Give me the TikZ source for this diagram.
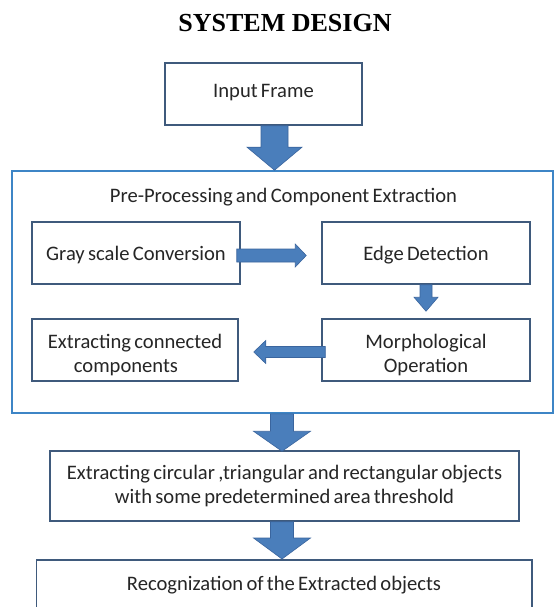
\documentclass[tikz,border=0pt]{standalone}
\usepackage{fontspec}
\setmainfont{Carlito}[WordSpace=0.7]
\newfontfamily\titlefont{Liberation Serif}
\usetikzlibrary{calc}
\definecolor{boxline}{HTML}{3F5A7C}
\definecolor{frameline}{HTML}{3D85C6}
\definecolor{arrowfill}{HTML}{4A7EBB}
\definecolor{arrowline}{HTML}{3A659E}
\tikzset{
  box/.style={draw=boxline, line width=1.5pt, fill=white, align=center, inner sep=0pt,
    font=\fontsize{20.6}{23.5}\selectfont, text=black!85},
  frame/.style={draw=frameline, line width=1.6pt, inner sep=0pt},
  blockarrow/.style={fill=arrowfill, draw=arrowline, line width=0.6pt, line join=miter},
  plaintext/.style={inner sep=0pt, font=\fontsize{20.6}{23.5}\selectfont, text=black!85}
}
\newcommand\lowstrut{\rule{0pt}{24pt}}
% vertical down arrow: start, tip, shaft half, head half, head length
\newcommand\downblock[5]{%
  \path[blockarrow] let \p1=#1, \p2=#2 in
    (\x1-#3pt,\y1) -- (\x1-#3pt,\y2+#5pt) -- (\x1-#4pt,\y2+#5pt) -- (\x1,\y2)
    -- (\x1+#4pt,\y2+#5pt) -- (\x1+#3pt,\y2+#5pt) -- (\x1+#3pt,\y1) -- cycle;}
% horizontal right arrow
\newcommand\rightblock[5]{%
  \path[blockarrow] let \p1=#1, \p2=#2 in
    (\x1,\y1-#3pt) -- (\x2-#5pt,\y1-#3pt) -- (\x2-#5pt,\y1-#4pt) -- (\x2,\y1)
    -- (\x2-#5pt,\y1+#4pt) -- (\x2-#5pt,\y1+#3pt) -- (\x1,\y1+#3pt) -- cycle;}
% horizontal left arrow
\newcommand\leftblock[5]{%
  \path[blockarrow] let \p1=#1, \p2=#2 in
    (\x1,\y1-#3pt) -- (\x2+#5pt,\y1-#3pt) -- (\x2+#5pt,\y1-#4pt) -- (\x2,\y1)
    -- (\x2+#5pt,\y1+#4pt) -- (\x2+#5pt,\y1+#3pt) -- (\x1,\y1+#3pt) -- cycle;}
\begin{document}
\begin{tikzpicture}[x=1pt,y=-1pt]
\useasboundingbox (0,0) rectangle (555,607);
\clip (0,0) rectangle (555,607);
\fill[white] (0,0) rectangle (555,607);

\node[anchor=base, inner sep=0pt, font=\titlefont\bfseries\fontsize{26}{30}\selectfont] (title) at (285,32) {SYSTEM DESIGN};

\node[box, minimum width=197, minimum height=62, text depth=7pt] (in) at (263.5,94) {Input Frame};

\node[frame, minimum width=541, minimum height=242] (frame) at (282.5,292) {};
\node[plaintext] (ftitle) at (283.5,197) {Pre-Processing and Component Extraction};

\node[box, minimum width=208, minimum height=62, text depth=0pt] (gray) at (136,253) {Gray scale Conversion};
\node[box, minimum width=208, minimum height=62, text depth=0pt] (edge) at (426,253) {Edge Detection};
\node[box, minimum width=208, minimum height=62] (morph) at (426,350) {\lowstrut Morphological\\Operation};
\node[box, minimum width=206, minimum height=62, align=left] (conn) at (135,350) {\lowstrut Extracting connected\\\hspace*{26pt}components};

\node[box, minimum width=469, minimum height=70] (circ) at (284.5,486) {Extracting circular ,triangular and rectangular objects\\with some predetermined area threshold};

\node[box, draw=none, minimum width=494, minimum height=46, anchor=north, text depth=1pt] (recog) at (284,560) {Recognization of the Extracted objects};
\draw[boxline, line width=1.5pt] ([yshift=-20pt]recog.south west) -- (recog.north west) -- (recog.north east) -- ([yshift=-20pt]recog.south east);

% connectors
\downblock{($(in.south)+(11,0)$)}{($(frame.north)+(-8,0)$)}{13.5}{27.5}{23}
\rightblock{($(gray.east)+(-4,2.5)$)}{($(edge.west)+(-15,2.5)$)}{6.5}{11.5}{11}
\downblock{(edge.south)}{($(morph.north)+(0,-7)$)}{6}{12}{14}
\leftblock{($(morph.west)+(4,2)$)}{($(conn.east)+(15,2)$)}{5.5}{11.5}{12}
\downblock{($(frame.south)+(-0.5,0)$)}{($(circ.north)+(0,1)$)}{11.5}{28.5}{20}
\downblock{($(circ.south)+(-2.5,0)$)}{($(recog.north)+(0,-1)$)}{11.5}{28.5}{21}
\end{tikzpicture}
\end{document}
